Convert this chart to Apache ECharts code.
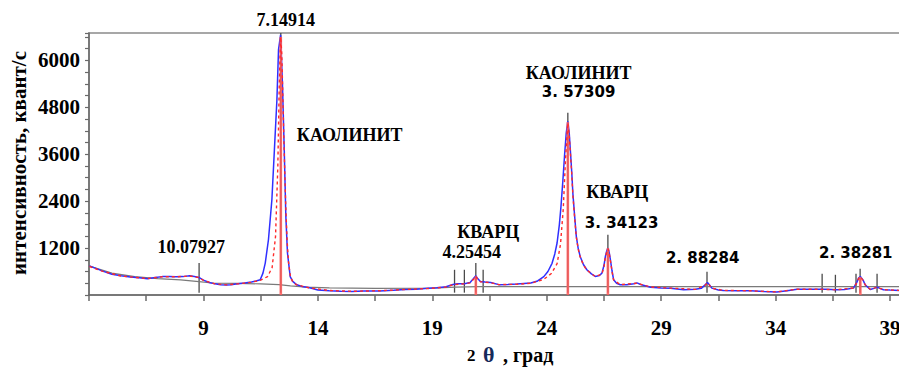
<!DOCTYPE html>
<html><head><meta charset="utf-8">
<script src="https://cdn.jsdelivr.net/npm/echarts@6/dist/echarts.min.js"></script>
<style>html,body{margin:0;padding:0;background:#fff}#c{width:899px;height:367px}</style>
</head><body><div id="c"></div>
<script>
// ---------- DATA ----------
// observed diffraction pattern [2θ, intensity]
const observed = [[4.02,740],[4.3,680],[4.6,610],[5.0,530],[5.4,490],[5.8,460],[6.2,440],[6.55,415],[6.9,450],[7.2,470],[7.5,475],[7.8,465],[8.1,470],[8.4,490],[8.6,475],[8.8,450],[9.0,380],[9.25,320],[9.5,285],[9.75,262],[10.0,258],[10.2,262],[10.5,285],[10.8,305],[11.1,330],[11.3,360],[11.48,390],[11.6,560],[11.7,816],[11.84,1413],[11.99,2436],[12.1,3716],[12.21,4995],[12.28,6275],[12.37,6650],[12.45,5430],[12.53,3720],[12.6,2010],[12.67,1080],[12.79,470],[12.9,350],[13.08,260],[13.3,220],[13.6,190],[14.0,130],[14.5,110],[15.0,95],[15.5,90],[16.0,100],[16.7,105],[17.3,120],[17.8,140],[18.3,150],[18.8,170],[19.2,185],[19.6,210],[19.9,270],[20.1,290],[20.4,290],[20.65,320],[20.8,420],[20.9,490],[20.98,420],[21.1,345],[21.3,330],[21.55,320],[21.9,265],[22.3,270],[22.7,280],[23.0,295],[23.3,305],[23.6,360],[23.87,470],[24.05,600],[24.23,810],[24.35,1050],[24.45,1330],[24.55,1800],[24.62,2260],[24.7,2900],[24.78,3600],[24.85,4140],[24.92,4440],[24.98,4150],[25.03,3700],[25.09,3150],[25.14,2600],[25.22,2000],[25.29,1500],[25.37,1200],[25.46,985],[25.6,780],[25.75,645],[25.95,540],[26.12,475],[26.3,500],[26.41,560],[26.5,760],[26.56,985],[26.63,1150],[26.68,1200],[26.73,1080],[26.78,900],[26.85,620],[26.92,390],[27.05,300],[27.21,262],[27.5,265],[27.8,290],[27.94,310],[28.1,270],[28.53,200],[29.0,180],[29.4,170],[29.98,135],[30.5,145],[30.75,170],[30.92,260],[31.02,320],[31.12,250],[31.21,176],[31.5,130],[31.72,115],[32.3,110],[32.89,107],[33.5,90],[34.05,75],[34.5,110],[34.93,150],[35.3,150],[35.8,150],[36.2,145],[36.68,133],[37.0,140],[37.4,176],[37.55,330],[37.62,432],[37.7,473],[37.82,380],[37.91,261],[38.13,140],[38.3,170],[38.43,202],[38.55,170],[38.71,133],[39.0,125],[39.4,115],[40.0,115]];
// calculated profile [2θ, intensity]
const calculated = [[4.02,730],[4.6,605],[5.4,485],[6.2,440],[6.55,420],[7.2,465],[7.8,465],[8.4,485],[8.8,445],[9.0,375],[9.5,285],[10.0,260],[10.5,285],[11.1,325],[11.5,380],[11.8,470],[12.0,700],[12.15,1500],[12.25,3300],[12.31,5300],[12.37,6600],[12.42,6200],[12.46,5300],[12.5,4300],[12.54,3400],[12.6,2200],[12.66,1350],[12.72,820],[12.8,470],[12.9,340],[13.05,265],[13.6,185],[14.5,115],[15.5,95],[16.7,110],[17.8,140],[18.8,165],[19.6,205],[19.9,265],[20.4,285],[20.65,310],[20.8,400],[20.9,480],[20.98,400],[21.1,340],[21.55,315],[21.9,265],[22.7,275],[23.3,300],[23.87,400],[24.2,550],[24.45,800],[24.6,1300],[24.72,2200],[24.82,3500],[24.92,4400],[24.98,4100],[25.03,3650],[25.09,3100],[25.14,2550],[25.22,1950],[25.29,1480],[25.37,1180],[25.46,970],[25.6,770],[25.75,640],[26.12,470],[26.41,540],[26.5,720],[26.56,960],[26.63,1130],[26.68,1180],[26.73,1060],[26.78,880],[26.85,600],[26.92,385],[27.21,265],[27.94,300],[28.53,205],[29.4,175],[30.5,145],[30.92,250],[31.02,310],[31.12,240],[31.21,175],[31.72,118],[32.89,108],[34.05,80],[34.93,148],[35.8,148],[36.68,135],[37.4,180],[37.55,320],[37.62,425],[37.7,465],[37.82,375],[37.91,260],[38.13,145],[38.43,198],[38.71,135],[39.4,118],[40.0,115]];
// background line [2θ, intensity]
const background = [[4.02,740],[5.0,560],[6.0,470],[7.0,420],[8.0,385],[8.8,340],[9.5,300],[10.5,295],[11.5,285],[12.3,265],[12.8,235],[13.5,200],[14.5,180],[16.5,170],[19.0,175],[20.0,200],[21.0,215],[22.0,215],[40.0,215]];
// calculated peak positions (red sticks)
const stickPos = [12.38, 20.9, 24.92, 26.67, 37.7];
const stickHeight = [6600, 480, 4420, 1200, 460];
// peak markers (grey ticks)
const markerPos = [8.81, 12.38, 19.97, 20.4, 20.9, 21.22, 24.92, 26.67, 31.0, 36.03, 36.61, 37.51, 37.69, 38.43];
const markerTop = [820, 6700, 645, 645, 820, 645, 4660, 1540, 594, 543, 517, 543, 670, 543];
const markerBase = 60;
// annotations
const annotationTexts = ['7.14914', 'КАОЛИНИТ', '10.07927', 'КВАРЦ', '4.25454', 'КАОЛИНИТ', '3. 57309', 'КВАРЦ', '3. 34123', '2. 88284', '2. 38281'];
// axis ticks
const yTickLabels = [1200, 2400, 3600, 4800, 6000];
const xTickLabels = [9, 14, 19, 24, 29, 34, 39];

// ---------- LAYOUT / STYLE ----------
const SERIF = "'Liberation Serif','Times New Roman',serif";
const annotationAt = [[12.6,7040],[15.39,4100],[8.47,1233],[21.44,1617],[20.72,1105],[25.39,5686],[25.39,5200],[27.08,2641],[27.27,1848],[30.81,952],[37.5,1080]];
const annotationSans = [false,false,false,false,false,false,true,false,true,true,true];

const chart = echarts.init(document.getElementById('c'), null, {renderer:'svg'});
const lineRender = (color, width) => (params, api) => {
  const p0 = api.coord([api.value(0), api.value(1)]);
  const p1 = api.coord([api.value(0), api.value(2)]);
  return {type:'line', shape:{x1:p0[0], y1:p0[1], x2:p1[0], y2:p1[1]}, style:{stroke:color, lineWidth:width}};
};

const axisTitles = [
  {type: 'text', x: 19, y: 163, rotation: Math.PI / 2,
   style: {text: 'интенсивность, квант/с', font: "bold 21px 'Liberation Serif'", fill: '#000', align: 'center', verticalAlign: 'middle'}},
  {type: 'text', x: 467, y: 355,
   style: {text: '2', font: "bold 17px 'Liberation Serif'", fill: '#000', align: 'left', verticalAlign: 'middle'}},
  {type: 'text', x: 483, y: 354,
   style: {text: 'θ', font: "bold 22px 'Liberation Serif'", fill: '#152a5a', align: 'left', verticalAlign: 'middle'}},
  {type: 'text', x: 503, y: 355,
   style: {text: ', град', font: "bold 20px 'Liberation Serif'", fill: '#000', align: 'left', verticalAlign: 'middle'}}
];

chart.setOption({
  animation: false,
  backgroundColor: '#fff',
  grid: {left: 89, right: -14, top: 33, bottom: 72, show: true, borderColor: '#8a8a8a', borderWidth: 1.5,
         backgroundColor: 'transparent', containLabel: false, outerBoundsMode: 'none'},
  xAxis: {
    type: 'value', min: 4, max: 40, interval: 2.5,
    axisLine: {show: true, lineStyle: {color: '#6a6a6a', width: 1.5}},
    axisTick: {show: true, length: 6, lineStyle: {color: '#6a6a6a', width: 1.5}},
    splitLine: {show: false},
    axisLabel: {
      margin: 22, color: '#000', fontFamily: SERIF, fontWeight: 'bold', fontSize: 21,
      formatter: v => xTickLabels.indexOf(v) >= 0 ? String(v) : ''
    }
  },
  yAxis: {
    type: 'value', min: 0, max: 6700, interval: 1200,
    axisLine: {show: true, lineStyle: {color: '#6a6a6a', width: 1.5}},
    axisTick: {show: true, length: 4, lineStyle: {color: '#6a6a6a', width: 1.2}},
    minorTick: {show: true, splitNumber: 4, length: 4, lineStyle: {color: '#6a6a6a', width: 1.2}},
    splitLine: {show: false},
    axisLabel: {
      margin: 9, color: '#000', fontFamily: SERIF, fontWeight: 'bold', fontSize: 21,
      formatter: v => yTickLabels.indexOf(v) >= 0 ? String(v) : ''
    }
  },
  graphic: axisTitles,
  series: [
    {type: 'custom', silent: true, z: 1, clip: false,
     renderItem: lineRender('#4a4a4a', 1.3),
     data: markerPos.map((p, i) => [p, markerBase, markerTop[i]])},
    {type: 'line', silent: true, z: 2, data: background, showSymbol: false,
     lineStyle: {color: '#7a7a7a', width: 1.2}},
    {type: 'line', silent: true, z: 3, data: observed, showSymbol: false,
     lineStyle: {color: '#2f2fff', width: 1.5}},
    {type: 'custom', silent: true, z: 4, clip: false,
     renderItem: lineRender('rgba(255,90,90,0.85)', 2.6),
     data: stickPos.map((p, i) => [p, 0, stickHeight[i]])},
    {type: 'line', silent: true, z: 5, data: calculated, showSymbol: false,
     lineStyle: {color: '#ff2a2a', width: 1.4, type: [3, 3]}}
  ]
});

// place annotations through the chart's own coordinate conversion
const annotationGraphics = annotationTexts.map((t, i) => {
  const p = chart.convertToPixel({gridIndex: 0}, annotationAt[i]);
  return {type: 'text', x: p[0], y: p[1], z: 100,
    style: {text: t, fill: '#000', align: 'center', verticalAlign: 'middle',
      font: annotationSans[i] ? "bold 15px 'DejaVu Sans'" : "bold 18px 'Liberation Serif'"}};
});
chart.setOption({graphic: axisTitles.concat(annotationGraphics)});
</script>
</body></html>
